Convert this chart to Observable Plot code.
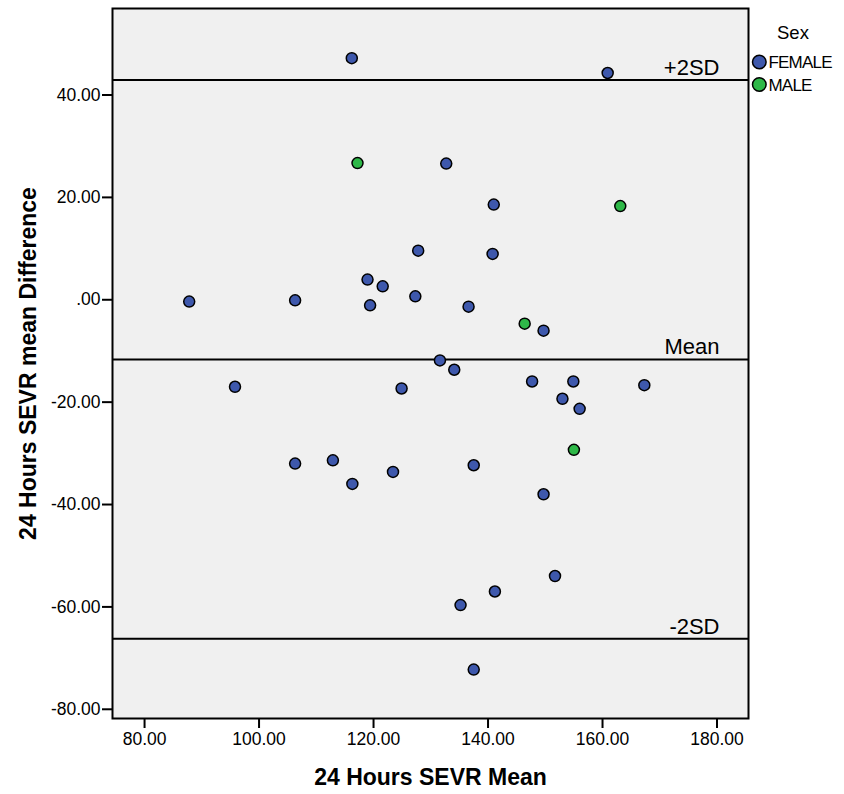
<!DOCTYPE html>
<html><head><meta charset="utf-8">
<script src="https://cdn.jsdelivr.net/npm/d3@7"></script>
<script src="https://cdn.jsdelivr.net/npm/@observablehq/plot@0.6"></script>
<style>
body{margin:0;background:#fff;font-family:"Liberation Sans",Arial,sans-serif;}
#wrap{position:relative;width:844px;height:794px;}
#wrap svg{display:block;}
#legend{position:absolute;left:744px;top:0;}
</style></head><body><div id="wrap"></div>
<script>
// Data (Bland–Altman plot)
const means = [116.2,160.9,117.2,132.7,141.0,163.1,127.8,140.8,118.95,121.6,87.8,106.3,119.4,127.3,136.6,146.4,149.7,131.6,134.1,95.8,124.9,147.7,154.9,167.3,153.0,156.0,155.0,106.3,112.9,116.3,123.4,137.5,149.7,135.2,141.2,151.7,137.5];
const diffs = [47.2,44.3,26.7,26.6,18.6,18.3,9.6,8.95,3.94,2.63,-0.36,-0.11,-1.09,0.67,-1.34,-4.67,-6.04,-11.85,-13.67,-17.0,-17.33,-15.96,-15.96,-16.68,-19.34,-21.3,-29.32,-32.0,-31.36,-35.97,-33.63,-32.33,-38.0,-59.65,-56.99,-53.97,-72.25];
const sexes = ["FEMALE","FEMALE","MALE","FEMALE","FEMALE","MALE","FEMALE","FEMALE","FEMALE","FEMALE","FEMALE","FEMALE","FEMALE","FEMALE","FEMALE","MALE","FEMALE","FEMALE","FEMALE","FEMALE","FEMALE","FEMALE","FEMALE","FEMALE","FEMALE","FEMALE","MALE","FEMALE","FEMALE","FEMALE","FEMALE","FEMALE","FEMALE","FEMALE","FEMALE","FEMALE","FEMALE"];
const sexCats = ["FEMALE","MALE"];
const sexColors = ["#3E58AC","#2EB848"];
const refLabels = ["+2SD","Mean","-2SD"];
const refValues = [42.93,-11.65,-66.2];
const xTicks = [80,100,120,140,160,180];
const yTicks = [-80,-60,-40,-20,0,20,40];
const xTitle = "24 Hours SEVR Mean";
const yTitle = "24 Hours SEVR mean Difference";
const legendTitle = "Sex";

const data = means.map((m,i)=>({mean:m, diff:diffs[i], sex:sexes[i]}));
const refRows = refLabels.map((l,i)=>({label:l, value:refValues[i]}));
const fmt = v => v === 0 ? ".00" : v.toFixed(2);
const font = "Liberation Sans, Arial, sans-serif";

const chart = Plot.plot({
  width:844, height:794,
  marginLeft:112, marginRight:96, marginTop:8, marginBottom:76,
  style:{fontFamily:font, fontSize:"17px", color:"#000", background:"#fff", overflow:"visible"},
  x:{domain:[74.4,185.5]},
  y:{domain:[-81.8,56.9]},
  color:{domain:sexCats, range:sexColors},
  marks:[
    Plot.frame({fill:"#f0f0f0"}),
    Plot.ruleY(refRows,{y:"value", stroke:"#000", strokeWidth:2}),
    Plot.text(refRows,{y:"value", text:"label", frameAnchor:"right", textAnchor:"end", lineAnchor:"bottom", dx:-29, dy:-5, fontSize:22, fill:"#000"}),
    Plot.dot(data,{x:"mean", y:"diff", fill:"sex", r:5.5, stroke:"#000", strokeWidth:1.5}),
    Plot.frame({stroke:"#000", strokeWidth:2}),
    Plot.axisX(xTicks,{tickSize:10, tickPadding:4, tickFormat:fmt, strokeWidth:2, label:null, fontSize:17.5}),
    Plot.axisY(yTicks,{tickSize:10, tickPadding:2, tickFormat:fmt, strokeWidth:2, label:null, fontSize:17.5}),
    Plot.text([xTitle],{text:d=>d, frameAnchor:"bottom", lineAnchor:"top", dy:50, fontSize:23, fontWeight:"bold", fill:"#000"}),
    Plot.text([yTitle],{text:d=>d, frameAnchor:"left", textAnchor:"middle", rotate:-90, dx:-84, fontSize:23, fontWeight:"bold", fill:"#000"})
  ]
});
const wrap = document.getElementById("wrap");
wrap.appendChild(chart);

// Legend
const leg = d3.select(wrap).append("svg").attr("id","legend").attr("width",100).attr("height",110)
  .style("font-family", font);
leg.append("text").attr("x",33).attr("y",39).attr("font-size",18.5).text(legendTitle);
const rows = leg.selectAll("g.row").data(sexCats).join("g").attr("class","row")
  .attr("transform",(d,i)=>`translate(0,${62 + i*22.5})`);
rows.append("circle").attr("cx",15.3).attr("cy",0).attr("r",6.8)
  .attr("fill",(d,i)=>sexColors[i]).attr("stroke","#000").attr("stroke-width",1.5);
rows.append("text").attr("x",24.5).attr("y",0).attr("dy","0.36em").attr("font-size",17)
  .attr("letter-spacing","-0.8").text(d=>d);
</script>
</body></html>
